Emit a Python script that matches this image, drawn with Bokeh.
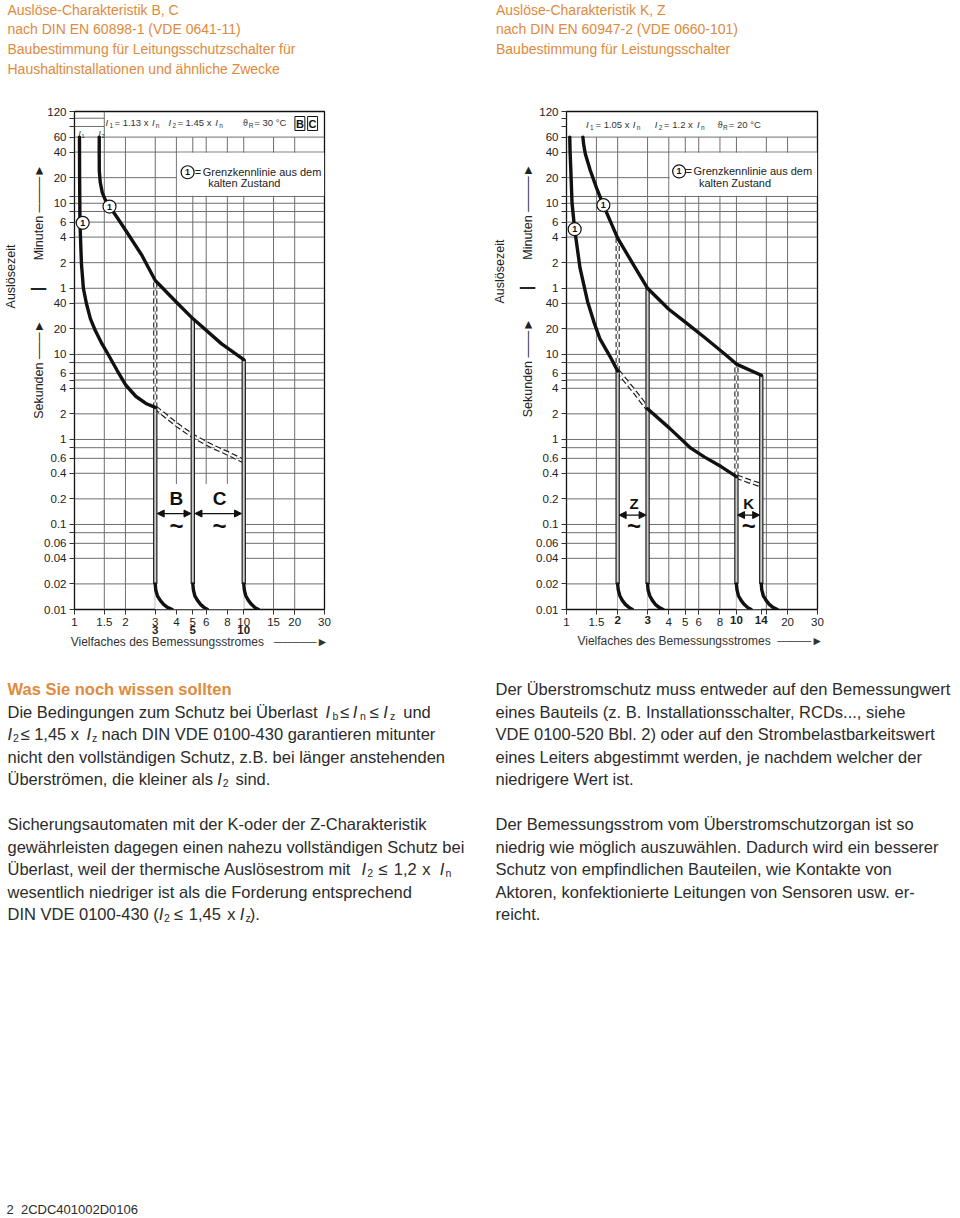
import math
from bokeh.plotting import figure
from bokeh.models import FixedTicker, Label, Arrow, NormalHead, Range1d, ColumnDataSource, LogAxis
from bokeh.layouts import column, row
from bokeh.embed import file_html
from bokeh.resources import INLINE
from bokeh.core.properties import value

FONT = "Liberation Sans"
ORANGE = "#E08A3C"
INK = "#222222"
TXT = "#2b2b2b"
GRID_C = "#6e6e6e"
CURVE_C = "#111111"
NB = "\u00a0"

X_MIN, X_MAX = 1, 30
T_MIN, T_MAX = 0.01, 7200          # seconds (120 min)

# ------------------------------------------------------------------ axes / grid
x_ticks_bc = [1, 1.5, 2, 3, 4, 5, 6, 8, 10, 15, 20, 30]
x_labels_bc = ["1", "1.5", "2", "3", "4", "5", "6", "8", "10", "15", "20", "30"]
x_bold_bc = [3, 5, 10]
x_bold_bc_txt = ["3", "5", "10"]

x_ticks_kz = [1, 1.5, 2, 3, 4, 5, 6, 8, 10, 14, 15, 20, 30]
x_labels_kz = ["1", "1.5", "", "", "4", "5", "6", "8", "", "", "", "20", "30"]
x_bold_kz = [2, 3, 10, 14]
x_bold_kz_txt = ["2", "3", "10", "14"]

t_ticks = [0.01, 0.02, 0.04, 0.06, 0.08, 0.1, 0.2, 0.4, 0.6, 0.8, 1, 2, 4, 5, 6, 8, 10, 20, 40,
           60, 120, 240, 360, 480, 600, 720, 1200, 2400, 3600, 4800, 6000, 7200]
t_labels = ["0.01", "0.02", "0.04", "0.06", "", "0.1", "0.2", "0.4", "0.6", "", "1", "2", "4", "", "6", "",
            "10", "20", "40", "1", "2", "4", "6", "", "10", "", "20", "40", "60", "", "", "120"]

grid_x = [1.5, 2, 3, 4, 5, 6, 8, 10, 15, 20]
grid_t = [0.02, 0.04, 0.06, 0.08, 0.1, 0.2, 0.4, 0.6, 0.8, 1, 2, 4, 5, 6, 8, 10, 20, 40,
          60, 120, 240, 360, 480, 600, 720, 1200, 2400, 3600]
header_grid_t = [4800, 6000]
bc_gaps_002 = [(3, 10)]
kz_gaps_002 = [(2, 3), (10, 14)]
# blank (grid-free) zones inside the tripping bands: (x0, x1, t_top)
bc_blank = [(3, 10, 0.3)]
kz_blank = [(2, 3, 0.3), (10, 14, 0.27)]

# ------------------------------------------------------------------ B / C curves
bc_i1_x = [1.07, 1.072, 1.077, 1.099, 1.129, 1.176, 1.241, 1.327, 1.44, 1.582, 1.787, 2.018, 2.309, 2.642, 3.0]
bc_i1_t = [3600, 1200, 356, 117, 59.6, 39.7, 26.4, 19.1, 13.8, 9.98, 6.47, 4.31, 3.2, 2.65, 2.38]
bc_i1_dash_x = [3.0, 4.0, 5.0, 6.5, 8.0, 10.0]
bc_i1_dash_t = [2.38, 1.5, 1.1, 0.83, 0.69, 0.555]
bc_i2_x = [1.40, 1.40, 1.401, 1.42, 1.459, 1.519, 1.61, 1.787, 2.045, 2.504, 3.0, 4.017, 5.0, 7.37, 10.0]
bc_i2_t = [3600, 2400, 1455, 1052, 802, 663, 549, 407, 272, 146, 74, 40.8, 26.4, 13.4, 8.7]
bc_band_x = [3, 5, 10]
bc_band_top = [2.38, 26.4, 8.7]
bc_dashv_x = [3]
bc_dashv_top = [74]
bc_dashv_bot = [2.38]
tail_t = [0.02, 0.017, 0.0145, 0.0128, 0.0115, 0.0106, 0.01]
bc_tails_x = [[3, 3.02, 3.09, 3.21, 3.36, 3.54, 3.78],
              [5, 5.04, 5.14, 5.33, 5.55, 5.82, 6.1],
              [10, 10.08, 10.28, 10.65, 11.1, 11.6, 12.2]]
bc_mark_x = [1.118, 1.61]
bc_mark_t = [353, 549]
bc_legend_x = [4.66]
bc_legend_t = [1390]

# ------------------------------------------------------------------ K / Z curves
kz_i1_x = [1.045, 1.05, 1.06, 1.078, 1.117, 1.2, 1.33, 1.45, 1.576, 1.802, 2.0]
kz_i1_t = [3600, 2400, 1500, 600, 297, 105, 42, 24, 15.1, 9.5, 6.4]
kz_i1_d1_x = [2.0, 2.5, 3.0]
kz_i1_d1_t = [6.4, 3.7, 2.3]
kz_i1_mid_x = [3.0, 4.05, 5.39, 6.5, 8.12, 10.0]
kz_i1_mid_t = [2.3, 1.35, 0.79, 0.62, 0.48, 0.366]
kz_i1_d2_x = [10.0, 12.0, 14.0]
kz_i1_d2_t = [0.366, 0.32, 0.29]
kz_i2_x = [1.249, 1.26, 1.29, 1.379, 1.506, 1.648, 2.0, 2.5, 3.0, 4.0, 5.0, 6.5, 8.5, 10.0, 14.0]
kz_i2_t = [3600, 3000, 2296, 1466, 896, 571, 233, 110, 60, 34, 24, 15.8, 10.2, 7.7, 5.7]
kz_band_x = [2, 3, 10, 14]
kz_band_top = [6.4, 60, 0.366, 5.7]
kz_dashv_x = [2, 10]
kz_dashv_top = [233, 7.7]
kz_dashv_bot = [6.4, 0.366]
kz_tails_x = [[2, 2.016, 2.06, 2.13, 2.22, 2.33, 2.44],
              [3, 3.02, 3.09, 3.2, 3.33, 3.5, 3.7],
              [10, 10.08, 10.28, 10.65, 11.1, 11.6, 12.2],
              [14, 14.1, 14.4, 14.95, 15.6, 16.4, 17.4]]
kz_mark_x = [1.117, 1.648]
kz_mark_t = [297, 571]
kz_legend_x = [4.6]
kz_legend_t = [1419]

# ------------------------------------------------------------------ texts
title_left = ["Auslöse-Charakteristik B, C", "nach DIN EN 60898-1 (VDE 0641-11)",
              "Baubestimmung für Leitungsschutzschalter für", "Haushaltinstallationen und ähnliche Zwecke"]
title_right = ["Auslöse-Charakteristik K, Z", "nach DIN EN 60947-2 (VDE 0660-101)",
               "Baubestimmung für Leistungsschalter"]

side_outer_txt = "Auslösezeit"
side_mid_txt = ["Minuten" + NB + "────►", "┃", "Sekunden" + NB + "───►"]
x_title_bc = "Vielfaches des Bemessungsstromes" + NB * 3 + "─────►"
x_title_kz = NB * 5 + "Vielfaches des Bemessungsstromes" + NB * 2 + "────►"
legend_txt = ["=", "Grenzkennlinie aus dem", "kalten Zustand"]

body_left = [
    (688, [(7, "Was Sie noch wissen sollten", "h")]),
    (711, [(7, "Die Bedingungen zum Schutz bei Überlast", "n"), (325, "I", "i"), (332, "b", "s"),
           (339.5, "≤", "n"), (352.3, "I", "i"), (359.5, "n", "s"), (369, "≤", "n"), (382.7, "I", "i"),
           (389.5, "z", "s"), (402.7, "und", "n")]),
    (733.3, [(7, "I", "i"), (12.5, "2", "s"), (20, "≤ 1,45 x", "n"),
             (86, "I", "i"), (91.5, "z", "s"), (101, "nach DIN VDE 0100-430 garantieren mitunter", "n")]),
    (756, [(7, "nicht den vollständigen Schutz, z.B. bei länger anstehenden", "n")]),
    (778.3, [(7, "Überströmen, die kleiner als", "n"), (216.7, "I", "i"), (222.3, "2", "s"), (235, "sind.", "n")]),
    (823.3, [(7, "Sicherungsautomaten mit der K-oder der Z-Charakteristik", "n")]),
    (846, [(7, "gewährleisten dagegen einen nahezu vollständigen Schutz bei", "n")]),
    (868.3, [(7, "Überlast, weil der thermische Auslösestrom mit", "n"), (361, "I", "i"), (366.7, "2", "s"),
             (377.7, "≤", "n"), (393.3, "1,2", "n"), (421.7, "x", "n"), (439.3, "I", "i"), (445, "n", "s")]),
    (891, [(7, "wesentlich niedriger ist als die Forderung entsprechend", "n")]),
    (913.3, [(7, "DIN VDE 0100-430 (", "n"), (158.3, "I", "i"), (163.5, "2", "s"), (173.3, "≤", "n"),
             (188.3, "1,45", "n"), (226.7, "x", "n"), (239.3, "I", "i"), (245, "z", "s"), (249.3, ").", "n")]),
]
body_right = [
    (688, "Der Überstromschutz muss entweder auf den Bemessungwert"),
    (711, "eines Bauteils (z. B. Installationsschalter, RCDs..., siehe"),
    (733.3, "VDE 0100-520 Bbl. 2) oder auf den Strombelastbarkeitswert"),
    (756, "eines Leiters abgestimmt werden, je nachdem welcher der"),
    (778.3, "niedrigere Wert ist."),
    (823.3, "Der Bemessungsstrom vom Überstromschutzorgan ist so"),
    (846, "niedrig wie möglich auszuwählen. Dadurch wird ein besserer"),
    (868.3, "Schutz von empfindlichen Bauteilen, wie Kontakte von"),
    (891, "Aktoren, konfektionierte Leitungen von Sensoren usw. er-"),
    (913.3, "reicht."),
]
footer = "2" + NB + NB + "2CDC401002D0106"

hdr_bc = [(103.3, "I", "i"), (107.3, "1", "s"), (112.3, "= 1.13 x", "n"), (150, "I", "i"), (154, "n", "s"),
          (166.7, "I", "i"), (170.7, "2", "s"), (175.7, "= 1.45 x", "n"), (214, "I", "i"), (218, "n", "s"),
          (241.7, "ϑ", "n"), (247.7, "R", "s"), (253.3, "= 30 °C", "n")]
hdr_kz = [(582.7, "I", "i"), (586.7, "1", "s"), (592.3, "= 1.05 x", "n"), (630, "I", "i"), (634, "n", "s"),
          (652.3, "I", "i"), (656.3, "2", "s"), (661.7, "= 1.2 x", "n"), (695, "I", "i"), (699, "n", "s"),
          (715.7, "ϑ", "n"), (721.3, "R", "s"), (727.3, "= 20 °C", "n")]

# ------------------------------------------------------------------ layout constants (page = picture pixels)
TITLE_H = 96
CHART_H = 569
TEXT_H = 551
W_TOTAL = 960
CHART_TOP = TITLE_H
TEXT_TOP = TITLE_H + CHART_H


def px2data(fr, gx, gy):
    lx = math.log10(X_MIN) + (gx - fr["left"]) / fr["w"] * (math.log10(X_MAX) - math.log10(X_MIN))
    ly = math.log10(T_MIN) + (fr["top"] + fr["h"] - gy) / fr["h"] * (math.log10(T_MAX) - math.log10(T_MIN))
    return 10 ** lx, 10 ** ly


def lab(p, fr, gx, gy, text, size, style="normal", color=INK, align="left", baseline="middle", **kw):
    x, y = px2data(fr, gx, gy)
    p.add_layout(Label(x=x, y=y, text=text, text_font=FONT, text_font_size=size, text_font_style=style,
                       text_color=color, text_align=align, text_baseline=baseline, **kw))


def rich(p, fr, segs, gy, size_main, size_sub, color):
    for gx, txt, kind in segs:
        if kind == "s":
            lab(p, fr, gx, gy + 3, txt, size_sub, color=color)
        elif kind == "i":
            lab(p, fr, gx, gy, txt, size_main, style="italic", color=color)
        else:
            lab(p, fr, gx, gy, txt, size_main, color=color)


def make_chart(fig_w, fig_page_x, b_left, frame_w, frame_h, b_top, x_ticks, x_labels):
    b_right = fig_w - b_left - frame_w
    b_bottom = CHART_H - b_top - frame_h
    p = figure(width=fig_w, height=CHART_H, x_axis_type="log", y_axis_type="log",
               x_range=Range1d(X_MIN, X_MAX), y_range=Range1d(T_MIN, T_MAX),
               min_border_left=b_left, min_border_right=b_right,
               min_border_top=b_top, min_border_bottom=b_bottom,
               output_backend="svg", toolbar_location=None)
    p.background_fill_color = "white"
    p.border_fill_color = "white"
    p.xgrid.visible = False
    p.ygrid.visible = False
    p.outline_line_color = "#111"
    p.outline_line_width = 1.3
    p.xaxis.ticker = FixedTicker(ticks=x_ticks, minor_ticks=[])
    p.xaxis.major_label_overrides = {v: s for v, s in zip(x_ticks, x_labels)}
    p.yaxis.ticker = FixedTicker(ticks=t_ticks, minor_ticks=[])
    p.yaxis.major_label_overrides = {v: s for v, s in zip(t_ticks, t_labels)}
    for ax in (p.xaxis[0], p.yaxis[0]):
        ax.axis_line_color = None
        ax.major_tick_line_color = "#333"
        ax.major_tick_out = 5
        ax.major_tick_in = 0
        ax.minor_tick_line_color = None
        ax.major_label_text_font = FONT
        ax.major_label_text_font_size = "11.5px"
        ax.major_label_text_color = INK
        ax.major_label_standoff = 3
    fr = dict(left=fig_page_x + b_left, top=CHART_TOP + b_top, w=frame_w, h=frame_h)
    return p, fr


def label_axis(ticks, texts, orientation, standoff, size, style="normal"):
    return LogAxis(ticker=FixedTicker(ticks=ticks, minor_ticks=[]),
                   major_label_overrides={v: s for v, s in zip(ticks, texts)},
                   major_label_orientation=orientation, axis_line_color=None,
                   major_tick_line_color=None, major_tick_out=0, major_tick_in=0,
                   minor_tick_line_color=None, minor_tick_out=0, minor_tick_in=0,
                   major_label_standoff=standoff, major_label_text_font=FONT,
                   major_label_text_font_size=size, major_label_text_font_style=style,
                   major_label_text_color=INK)


def add_side_axes(p, fr, s_mid, s_outer, gy_min, gy_bar, gy_sek, gy_outer):
    mid_t = [px2data(fr, 0, gy)[1] for gy in (gy_min, gy_bar, gy_sek)]
    p.add_layout(label_axis(mid_t, side_mid_txt, "vertical", s_mid, "12.5px"), "left")
    out_t = [px2data(fr, 0, gy_outer)[1]]
    p.add_layout(label_axis(out_t, [side_outer_txt], "vertical", s_outer, "12.5px"), "left")


def add_bottom_axis(p, bold_x, bold_txt, standoff, title, title_standoff):
    ax = label_axis(bold_x, bold_txt, "horizontal", standoff, "11.5px", "bold")
    ax.axis_label = title
    ax.axis_label_standoff = title_standoff
    ax.axis_label_text_font = FONT
    ax.axis_label_text_font_size = "12px"
    ax.axis_label_text_font_style = "normal"
    ax.axis_label_text_color = "#333"
    p.add_layout(ax, "below")


def draw_grid(p, gaps, blanks):
    x0, x1, y0, y1 = [], [], [], []
    for t in grid_t:
        if t == 0.02:
            a = X_MIN
            for g0, g1 in gaps:
                x0.append(a); x1.append(g0); y0.append(t); y1.append(t)
                a = g1
            x0.append(a); x1.append(X_MAX); y0.append(t); y1.append(t)
        else:
            x0.append(X_MIN); x1.append(X_MAX); y0.append(t); y1.append(t)
    for x in grid_x:
        x0.append(x); x1.append(x); y0.append(T_MIN); y1.append(3600)
    p.segment(x0=x0, y0=y0, x1=x1, y1=y1, line_color=GRID_C, line_width=1)
    p.quad(left=[b[0] for b in blanks], right=[b[1] for b in blanks], bottom=[T_MIN] * len(blanks),
           top=[b[2] for b in blanks], fill_color="white", line_color=None)


def draw_bands(p, bx, btop, dvx, dvtop, dvbot, tails):
    p.segment(x0=dvx, y0=dvbot, x1=dvx, y1=dvtop, line_color="#1e1e1e", line_width=4.2, line_dash="5 3")
    p.segment(x0=dvx, y0=dvbot, x1=dvx, y1=dvtop, line_color="white", line_width=2.0, line_dash="5 3")
    p.segment(x0=bx, y0=[0.02] * len(bx), x1=bx, y1=btop, line_color="#1e1e1e", line_width=4.4)
    p.segment(x0=bx, y0=[0.02] * len(bx), x1=bx, y1=btop, line_color="#cdcdcd", line_width=2.0)
    for tx in tails:
        p.line(tx, tail_t, line_color=CURVE_C, line_width=3.4, line_cap="round")


def dashed_double(p, xs, ts):
    p.line(xs, ts, line_color="#1e1e1e", line_width=4.6, line_dash="6 3")
    p.line(xs, ts, line_color="white", line_width=2.2, line_dash="6 3")


def curve(p, xs, ts):
    p.line(xs, ts, line_color=CURVE_C, line_width=3.4, line_join="round", line_cap="round")


def markers(p, xs, ts):
    p.scatter(xs, ts, marker="circle", size=13, fill_color="white", line_color="#111", line_width=1.2)
    p.text(xs, ts, text=["1"] * len(xs), text_font=value(FONT), text_font_size="9px",
           text_font_style="bold", text_align="center", text_baseline="middle", text_color="#111")


def legend(p, fr, gx_eq, gy):
    lab(p, fr, gx_eq, gy, legend_txt[0], "11px", color="#222")
    lab(p, fr, gx_eq + 8, gy, legend_txt[1], "11px", color="#222")
    lab(p, fr, gx_eq + 13.5, gy + 11.5, legend_txt[2], "11px", color="#222")


def band_labels(p, items, arrows, y_lab, y_arr, y_tilde, size):
    for x, txt in items:
        p.add_layout(Label(x=x, y=y_lab, text=txt, text_font=FONT, text_font_size=size, text_font_style="bold",
                           text_color="#111", text_align="center", text_baseline="middle"))
        p.add_layout(Label(x=x, y=y_tilde, text="~", text_font=FONT, text_font_size="24px", text_font_style="bold",
                           text_color="#111", text_align="center", text_baseline="middle"))
    for xa, xb in arrows:
        p.add_layout(Arrow(x_start=xa, y_start=y_arr, x_end=xb, y_end=y_arr,
                           start=NormalHead(size=7, fill_color="#111", line_color="#111"),
                           end=NormalHead(size=7, fill_color="#111", line_color="#111"),
                           line_color="#111", line_width=1.3))


# ================================================================== left chart (B, C)
pl, frl = make_chart(490, 0, 72, 252, 498, 15, x_ticks_bc, x_labels_bc)
add_side_axes(pl, frl, -4, 11, 212, 288, 369, 276)
add_bottom_axis(pl, x_bold_bc, x_bold_bc_txt, -3, x_title_bc, -2)
draw_grid(pl, bc_gaps_002, bc_blank)
pl.segment(x0=[X_MIN] * len(header_grid_t), y0=header_grid_t, x1=[1.5] * len(header_grid_t), y1=header_grid_t,
           line_color=GRID_C, line_width=1)
pl.segment(x0=[1.5], y0=[3600], x1=[1.5], y1=[T_MAX], line_color=GRID_C, line_width=1)
pl.quad(left=[4.03], right=[29.9], bottom=[735], top=[2350], fill_color="white", line_color=None)
dashed_double(pl, bc_i1_dash_x, bc_i1_dash_t)
draw_bands(pl, bc_band_x, bc_band_top, bc_dashv_x, bc_dashv_top, bc_dashv_bot, bc_tails_x)
curve(pl, bc_i1_x, bc_i1_t)
curve(pl, bc_i2_x, bc_i2_t)
markers(pl, bc_mark_x + bc_legend_x, bc_mark_t + bc_legend_t)

rich(pl, frl, hdr_bc, 122.3, "9.5px", "6.5px", "#333")
for gx, txt in [(299.2, "B"), (312.0, "C")]:
    lab(pl, frl, gx, 123, txt, "11px", style="bold", color="#111", align="center",
        border_line_color="#111", border_line_width=1, background_fill_color="white", padding=1)
lab(pl, frl, 76, 133, "I", "8px", style="italic", color="#222")
lab(pl, frl, 79, 135.5, "1", "5.5px", color="#222")
lab(pl, frl, 96.3, 133, "I", "8px", style="italic", color="#222")
lab(pl, frl, 99.3, 135.5, "2", "5.5px", color="#222")
legend(pl, frl, 193.3, 171)
band_labels(pl, [(4.0, "B"), (7.2, "C")], [(3.08, 4.88), (5.15, 9.7)], 0.2, 0.1345, 0.097, "19px")

# ================================================================== right chart (K, Z)
pr, frr = make_chart(470, 490, 73, 254, 501, 15, x_ticks_kz, x_labels_kz)
add_side_axes(pr, frr, -2, 11, 212, 289, 369, 272)
add_bottom_axis(pr, x_bold_kz, x_bold_kz_txt, -13, x_title_kz, 7)
draw_grid(pr, kz_gaps_002, kz_blank)
pr.quad(left=[4.05], right=[29.9], bottom=[735], top=[2350], fill_color="white", line_color=None)
dashed_double(pr, kz_i1_d1_x, kz_i1_d1_t)
dashed_double(pr, kz_i1_d2_x, kz_i1_d2_t)
draw_bands(pr, kz_band_x, kz_band_top, kz_dashv_x, kz_dashv_top, kz_dashv_bot, kz_tails_x)
curve(pr, kz_i1_x, kz_i1_t)
curve(pr, kz_i1_mid_x, kz_i1_mid_t)
curve(pr, kz_i2_x, kz_i2_t)
markers(pr, kz_mark_x + kz_legend_x, kz_mark_t + kz_legend_t)

rich(pr, frr, hdr_kz, 123.7, "9.5px", "6.5px", "#333")
legend(pr, frr, 683.5, 171)
band_labels(pr, [(2.5, "Z"), (11.8, "K")], [(2.04, 2.94), (10.15, 13.7)], 0.178, 0.129, 0.097, "15px")

# ================================================================== text figures
def text_fig(h):
    p = figure(width=W_TOTAL, height=h, x_range=Range1d(0, W_TOTAL), y_range=Range1d(h, 0),
               x_axis_location=None, y_axis_location=None, min_border=0,
               output_backend="svg", toolbar_location=None)
    p.grid.visible = False
    p.outline_line_color = None
    p.background_fill_color = "white"
    p.border_fill_color = "white"
    return p


def add_texts(p, rows):
    src = ColumnDataSource(dict(x=[r[0] for r in rows], y=[r[1] for r in rows], text=[r[2] for r in rows],
                                size=[r[3] for r in rows], style=[r[4] for r in rows], color=[r[5] for r in rows]))
    p.text(x="x", y="y", text="text", source=src, text_font=value(FONT), text_font_size="size",
           text_font_style="style", text_color="color", text_align="left", text_baseline="middle")


pt = text_fig(TITLE_H)
rows = []
for i, s in enumerate(title_left):
    rows.append((7, 9 + 19.8 * i, s, "14px", "normal", ORANGE))
for i, s in enumerate(title_right):
    rows.append((495.5, 9 + 19.8 * i, s, "14px", "normal", ORANGE))
add_texts(pt, rows)

pb = text_fig(TEXT_H)
rows = []
for gy, segs in body_left:
    for gx, s, kind in segs:
        if kind == "h":
            rows.append((gx, gy - TEXT_TOP, s, "16.5px", "bold", ORANGE))
        elif kind == "i":
            rows.append((gx, gy - TEXT_TOP, s, "16.5px", "italic", TXT))
        elif kind == "s":
            rows.append((gx, gy - TEXT_TOP + 4.5, s, "10.5px", "normal", TXT))
        else:
            rows.append((gx, gy - TEXT_TOP, s, "16.5px", "normal", TXT))
for gy, s in body_right:
    rows.append((495, gy - TEXT_TOP, s, "16.5px", "normal", TXT))
rows.append((6, 1209 - TEXT_TOP, footer, "13px", "normal", TXT))
add_texts(pb, rows)

layout = column(pt, row(pl, pr), pb)
open("out.html", "w").write(file_html(layout, INLINE))
